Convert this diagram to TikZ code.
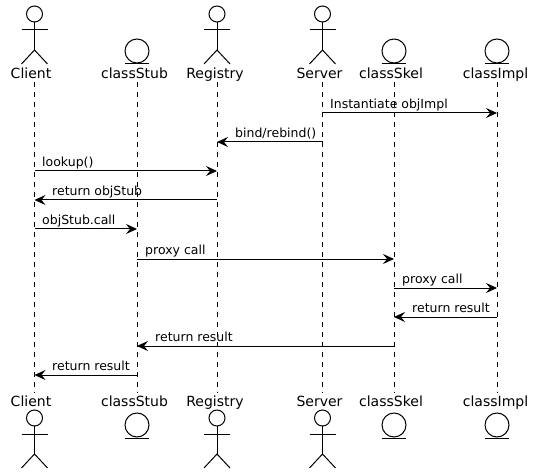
\documentclass[tikz,border=0pt]{standalone}
\usepackage{fontspec}
\setmainfont{DejaVu Sans}
\usetikzlibrary{arrows.meta}
\tikzset{
  shp/.style={draw=black,line width=1bp},
  life/.style={draw=black,line width=0.8bp,dash pattern=on 5bp off 5bp},
  pname/.style={inner sep=0pt,anchor=base,font=\fontsize{14bp}{16bp}\selectfont,text=black},
  mtext/.style={inner sep=0pt,anchor=base west,font=\fontsize{12.5bp}{15bp}\selectfont,text=black},
  msgline/.style={draw=black,line width=1bp,-{Stealth[length=11bp,width=10bp,inset=4bp]}},
}
% actor: x, y of head centre
\newcommand{\myactor}[2]{%
  \draw[shp] (#1,#2) circle[radius=8];
  \draw[shp] (#1,#2+8) -- (#1,#2+36);
  \draw[shp] (#1-13,#2+16) -- (#1+13,#2+16);
  \draw[shp] (#1-13,#2+50) -- (#1,#2+36) -- (#1+13,#2+50);
}
% entity: x, y of circle centre
\newcommand{\myentity}[2]{%
  \draw[shp] (#1,#2) circle[radius=12];
  \draw[shp] (#1-12,#2+13) -- (#1+12,#2+13);
}
% participant: name, lifeline x, label, label centre x
\newcommand{\mypart}[4]{%
  \node[pname] (#1T) at (#4,79) {#3};
  \node[pname] (#1B) at (#4,406) {#3};
  \coordinate (#1a) at (#2,82);
  \coordinate (#1b) at (#2,393);
  \draw[life] (#1a) -- (#1b);
}
% message: from, to, y, label, label x
\newcommand{\mymsg}[5]{%
  \coordinate (s#3) at (#1a |- 0,#3);
  \coordinate (e#3) at (#2a |- 0,#3);
  \draw[msgline] (s#3) -- (e#3);
  \node[mtext] (l#3) at (#5,#3-4.5) {#4};
}
\begin{document}
\begin{tikzpicture}[x=1bp,y=-1bp]
\useasboundingbox[fill=white] (0,0) rectangle (533,473);
\mypart{cl}{34.5}{Client}{31}
\mypart{st}{137}{classStub}{134.5}
\mypart{re}{217}{Registry}{215}
\mypart{se}{322.5}{Server}{319.5}
\mypart{sk}{394}{classSkel}{391}
\mypart{im}{497}{classImpl}{495.5}
\myactor{34.5}{14}\myactor{217}{14}\myactor{322.5}{14}
\myactor{34.5}{418}\myactor{217}{418}\myactor{322.5}{418}
\myentity{137}{51}\myentity{394}{51}\myentity{497}{51}
\myentity{137}{425}\myentity{394}{425}\myentity{497}{425}
\mymsg{se}{im}{113}{Instantiate objImpl}{330}
\mymsg{se}{re}{142}{bind/rebind()}{235}
\mymsg{cl}{re}{171}{lookup()}{42}
\mymsg{re}{cl}{200}{return objStub}{52}
\mymsg{cl}{st}{229}{objStub.call}{42}
\mymsg{st}{sk}{259}{proxy call}{145}
\mymsg{sk}{im}{288}{proxy call}{402}
\mymsg{im}{sk}{317}{return result}{412}
\mymsg{sk}{st}{346}{return result}{155}
\mymsg{st}{cl}{375}{return result}{52}
\end{tikzpicture}
\end{document}
